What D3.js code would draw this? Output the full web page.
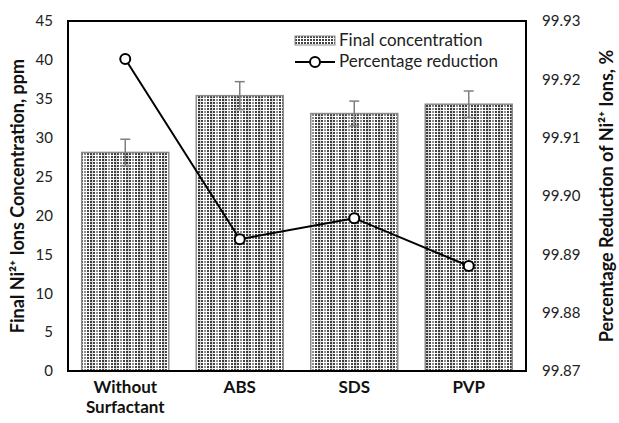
<!DOCTYPE html>
<html>
<head>
<meta charset="utf-8">
<script src="https://cdn.jsdelivr.net/npm/d3@7"></script>
<style>
  body { margin: 0; background: #fff; }
  text { font-family: "Lato", "Open Sans", sans-serif; }
</style>
</head>
<body>
<div id="chart"></div>
<script>
const categories = ["Without Surfactant", "ABS", "SDS", "PVP"]
const concentration = [28.1, 35.4, 33.1, 34.3]
const concentration_err = [1.7, 1.8, 1.6, 1.7]
const reduction = [99.9235, 99.8926, 99.8962, 99.888]
const left_ticks = [0, 5, 10, 15, 20, 25, 30, 35, 40, 45]
const right_ticks = [99.87, 99.88, 99.89, 99.90, 99.91, 99.92, 99.93]

const width = 619, height = 423
const margin = {top: 21, right: 93, bottom: 52, left: 68}

let svg = d3.select("#chart").append("svg")
    .attr("width", width)
    .attr("height", height)

// dotted fill for the bars
let defs = svg.append("defs")
let pat = defs.append("pattern")
    .attr("id", "dots")
    .attr("patternUnits", "userSpaceOnUse")
    .attr("width", 3)
    .attr("height", 3)
pat.append("rect").attr("width", 3).attr("height", 3).attr("fill", "#fff")
pat.append("rect").attr("width", 2).attr("height", 2).attr("fill", "#444")

let stripes = defs.append("pattern")
    .attr("id", "stripes")
    .attr("patternUnits", "userSpaceOnUse")
    .attr("width", 12)
    .attr("height", 3)
stripes.append("rect").attr("x", 0).attr("width", 3).attr("height", 3).attr("fill", "#fff").attr("opacity", 0.4)
stripes.append("rect").attr("x", 6).attr("width", 3).attr("height", 3).attr("fill", "#000").attr("opacity", 0.15)

let x = d3.scaleBand()
    .domain(categories)
    .range([margin.left, width - margin.right])
    .paddingInner(0.24)
    .paddingOuter(0.12)

let y = d3.scaleLinear()
    .domain([0, 45])
    .range([height - margin.bottom, margin.top])

let y2 = d3.scaleLinear()
    .domain([99.87, 99.93])
    .range([height - margin.bottom, margin.top])

let plot = svg.append("g")

// bars
plot.selectAll(".bar")
    .data(concentration)
    .enter().append("rect")
    .attr("x", (d, i) => x(categories[i]))
    .attr("y", (d) => y(d))
    .attr("width", x.bandwidth())
    .attr("height", (d) => y(0) - y(d))
    .style("fill", "url(#dots)")
    .style("stroke", "#8c8c8c")
    .style("stroke-width", 1.5)

plot.selectAll(".bar-stripe")
    .data(concentration)
    .enter().append("rect")
    .attr("x", (d, i) => x(categories[i]) + 1)
    .attr("y", (d) => y(d) + 1)
    .attr("width", x.bandwidth() - 2)
    .attr("height", (d) => y(0) - y(d) - 1)
    .style("fill", "url(#stripes)")

// error bars
let err = plot.selectAll(".err")
    .data(concentration)
    .enter().append("g")
    .style("stroke", "#7f7f7f")
    .style("stroke-width", 1.5)
err.append("line")
    .attr("x1", (d, i) => x(categories[i]) + x.bandwidth() / 2)
    .attr("x2", (d, i) => x(categories[i]) + x.bandwidth() / 2)
    .attr("y1", (d, i) => y(d - concentration_err[i]))
    .attr("y2", (d, i) => y(d + concentration_err[i]))
err.append("line")
    .attr("x1", (d, i) => x(categories[i]) + x.bandwidth() / 2 - 5)
    .attr("x2", (d, i) => x(categories[i]) + x.bandwidth() / 2 + 5)
    .attr("y1", (d, i) => y(d + concentration_err[i]))
    .attr("y2", (d, i) => y(d + concentration_err[i]))
err.append("line")
    .attr("x1", (d, i) => x(categories[i]) + x.bandwidth() / 2 - 5)
    .attr("x2", (d, i) => x(categories[i]) + x.bandwidth() / 2 + 5)
    .attr("y1", (d, i) => y(d - concentration_err[i]))
    .attr("y2", (d, i) => y(d - concentration_err[i]))

// line series
let line = d3.line()
    .x((d, i) => x(categories[i]) + x.bandwidth() / 2)
    .y((d) => y2(d))

plot.append("path")
    .datum(reduction)
    .attr("d", line)
    .style("fill", "none")
    .style("stroke", "#000")
    .style("stroke-width", 2)

plot.selectAll(".pt")
    .data(reduction)
    .enter().append("circle")
    .attr("cx", (d, i) => x(categories[i]) + x.bandwidth() / 2)
    .attr("cy", (d) => y2(d))
    .attr("r", 5)
    .style("fill", "#fff")
    .style("stroke", "#000")
    .style("stroke-width", 2)

// frame
svg.append("rect")
    .attr("x", margin.left)
    .attr("y", margin.top)
    .attr("width", width - margin.left - margin.right)
    .attr("height", height - margin.top - margin.bottom)
    .style("fill", "none")
    .style("stroke", "#000")
    .style("stroke-width", 2)

// axes
let left_axis = svg.append("g")
    .attr("transform", `translate(${margin.left},0)`)
    .call(d3.axisLeft(y).tickValues(left_ticks).tickSize(0).tickPadding(15))
left_axis.select(".domain").remove()
left_axis.selectAll("text").style("font-size", "15px").style("fill", "#222")

let right_axis = svg.append("g")
    .attr("transform", `translate(${width - margin.right},0)`)
    .call(d3.axisRight(y2).tickValues(right_ticks).tickFormat(d3.format(".2f")).tickSize(0).tickPadding(16))
right_axis.select(".domain").remove()
right_axis.selectAll("text").style("font-size", "15px").style("fill", "#222")

// category labels
let xl = svg.selectAll(".xl")
    .data(categories)
    .enter().append("text")
    .attr("x", (d) => x(d) + x.bandwidth() / 2)
    .attr("y", 393)
    .attr("text-anchor", "middle")
    .style("font-size", "17px")
    .style("font-weight", "bold")
    .style("fill", "#111")
xl.each(function(d) {
    let words = d.split(" ")
    let t = d3.select(this)
    words.forEach((w, j) => {
        t.append("tspan")
            .attr("x", x(d) + x.bandwidth() / 2)
            .attr("dy", j == 0 ? 0 : 20)
            .text(w)
    })
})

// axis titles
svg.append("text")
    .attr("transform", `translate(24,${(margin.top + height - margin.bottom) / 2}) rotate(-90)`)
    .attr("text-anchor", "middle")
    .style("font-size", "18px")
    .style("font-weight", "bold")
    .style("fill", "#111")
    .text("Final Ni²⁺ Ions Concentration, ppm")

svg.append("text")
    .attr("transform", `translate(613,${(margin.top + height - margin.bottom) / 2}) rotate(-90)`)
    .attr("text-anchor", "middle")
    .style("font-size", "18px")
    .style("font-weight", "bold")
    .style("fill", "#111")
    .text("Percentage Reduction of Ni²⁺ Ions, %")

// legend
let legend = svg.append("g").attr("transform", "translate(295,33)")
legend.append("rect")
    .attr("x", 0).attr("y", 3)
    .attr("width", 40).attr("height", 9)
    .style("fill", "url(#dots)")
    .style("stroke", "#8c8c8c")
legend.append("text")
    .attr("x", 44).attr("y", 13)
    .style("font-size", "17px")
    .style("fill", "#222")
    .text("Final concentration")
legend.append("line")
    .attr("x1", 0).attr("x2", 40)
    .attr("y1", 29).attr("y2", 29)
    .style("stroke", "#000")
    .style("stroke-width", 2)
legend.append("circle")
    .attr("cx", 20).attr("cy", 29).attr("r", 5)
    .style("fill", "#fff")
    .style("stroke", "#000")
    .style("stroke-width", 2)
legend.append("text")
    .attr("x", 44).attr("y", 34)
    .style("font-size", "17px")
    .style("fill", "#222")
    .text("Percentage reduction")
</script>
</body>
</html>
